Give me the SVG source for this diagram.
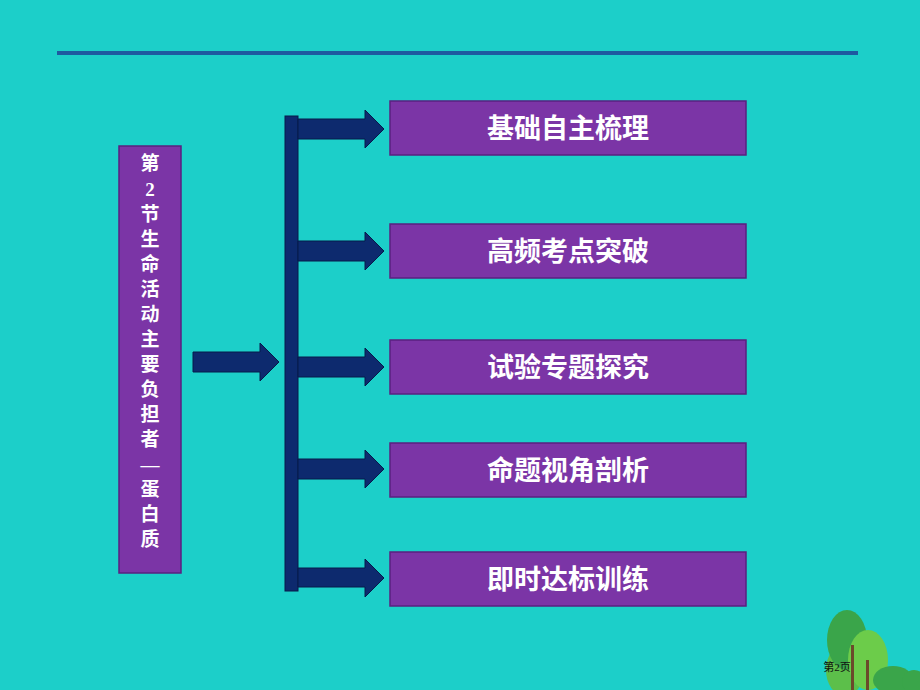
<svg xmlns="http://www.w3.org/2000/svg" width="920" height="690" viewBox="0 0 920 690">
<defs>
<style>
.box{fill:#7b35a6;stroke:#5a2180;stroke-width:1.5}
.lbl{font-family:"Noto Sans CJK SC",sans-serif;font-weight:bold;font-size:27px;fill:#fff;text-anchor:middle}
.vt{font-family:"Liberation Serif","Noto Sans CJK SC",serif;font-size:19px;fill:#fff;text-anchor:middle}
.arr{fill:#0d2a6e;stroke:#071a4a;stroke-width:1}
</style>
<linearGradient id="tg" x1="0" y1="0" x2="0" y2="1"><stop offset="0" stop-color="#9a56c4"/><stop offset="0.15" stop-color="#7b35a6"/></linearGradient>
</defs>
<rect width="920" height="690" fill="#1ccfc9"/>
<line x1="57" y1="53" x2="858" y2="53" stroke="#1e5aa0" stroke-width="4"/>
<g id="left"><rect class="box" x="119" y="146" width="62" height="427" fill="url(#tg)"/>
<text class="vt" font-weight="bold"><tspan x="150" y="170">第</tspan><tspan x="150" y="196">2</tspan><tspan x="150" y="221">节</tspan><tspan x="150" y="246">生</tspan><tspan x="150" y="271">命</tspan><tspan x="150" y="296">活</tspan><tspan x="150" y="321">动</tspan><tspan x="150" y="346">主</tspan><tspan x="150" y="371">要</tspan><tspan x="150" y="396">负</tspan><tspan x="150" y="421">担</tspan><tspan x="150" y="446">者</tspan><tspan x="150" y="471">—</tspan><tspan x="150" y="496">蛋</tspan><tspan x="150" y="521">白</tspan><tspan x="150" y="546">质</tspan></text></g>
<g id="connectors">
<rect class="arr" x="285" y="116" width="13" height="475"/>
<polygon class="arr" points="193,352 260,352 260,343 279,362 260,381 260,372 193,372"/>
<polygon class="arr" points="298,119 365,119 365,110 384,129 365,148 365,139 298,139"/>
<polygon class="arr" points="298,241 365,241 365,232 384,251 365,270 365,261 298,261"/>
<polygon class="arr" points="298,357 365,357 365,348 384,367 365,386 365,377 298,377"/>
<polygon class="arr" points="298,459 365,459 365,450 384,469 365,488 365,479 298,479"/>
<polygon class="arr" points="298,568 365,568 365,559 384,578 365,597 365,587 298,587"/>
</g>
<g id="n1"><rect class="box" x="390" y="101" width="356" height="54" fill="url(#tg)"/><text class="lbl" x="568" y="138">基础自主梳理</text></g>
<g id="n2"><rect class="box" x="390" y="224" width="356" height="54" fill="url(#tg)"/><text class="lbl" x="568" y="261">高频考点突破</text></g>
<g id="n3"><rect class="box" x="390" y="340" width="356" height="54" fill="url(#tg)"/><text class="lbl" x="568" y="377">试验专题探究</text></g>
<g id="n4"><rect class="box" x="390" y="443" width="356" height="54" fill="url(#tg)"/><text class="lbl" x="568" y="480">命题视角剖析</text></g>
<g id="n5"><rect class="box" x="390" y="552" width="356" height="54" fill="url(#tg)"/><text class="lbl" x="568" y="589">即时达标训练</text></g>
<g id="trees">
<ellipse cx="845" cy="670" rx="19" ry="26" fill="#5cbf4a"/>
<ellipse cx="847" cy="640" rx="20" ry="30" fill="#3aa54a"/>
<ellipse cx="868" cy="660" rx="20" ry="30" fill="#6ccc4a"/>
<ellipse cx="893" cy="680" rx="20" ry="14" fill="#3aa54a"/>
<ellipse cx="914" cy="682" rx="12" ry="12" fill="#3aa54a"/>
<rect x="851" y="645" width="3" height="45" fill="#6b4a2a"/>
<rect x="866" y="660" width="3" height="30" fill="#6b4a2a"/>
<text x="837" y="671" font-family="Liberation Serif,'Noto Sans CJK SC',serif" font-size="11" fill="#111" text-anchor="middle">第2页</text>
</g>
</svg>
